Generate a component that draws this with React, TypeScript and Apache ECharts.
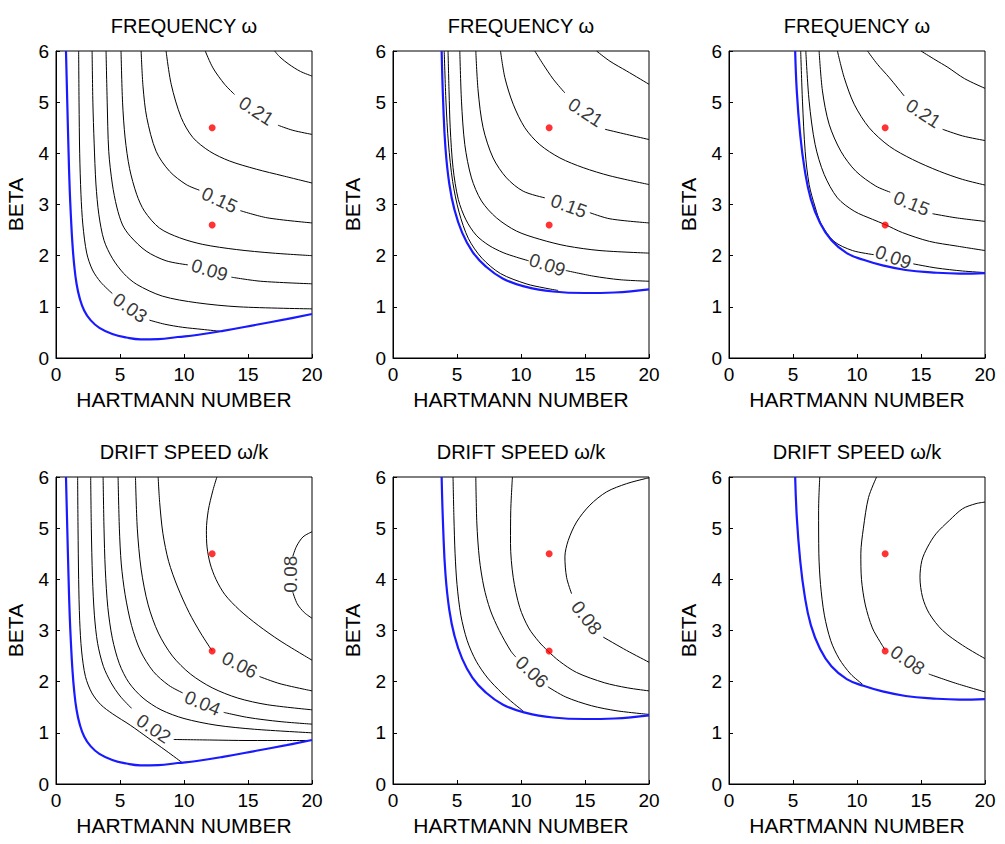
import React, { useEffect, useRef } from "react";
import * as echarts from "echarts";

type Pt = [number, number];
interface Contour {
  level: string;
  segs: Pt[][];
  label?: [number, number, number]; // x, y, rotation (deg)
}

const TITLES = [
  "FREQUENCY ω",
  "FREQUENCY ω",
  "FREQUENCY ω",
  "DRIFT SPEED ω/k",
  "DRIFT SPEED ω/k",
  "DRIFT SPEED ω/k",
];
const X_NAME = "HARTMANN NUMBER";
const Y_NAME = "BETA";
const X_RANGE = [0, 20, 5];
const Y_RANGE = [0, 6, 1];
const OPERATING_POINTS: Pt[] = [
  [12.2, 4.5],
  [12.2, 2.6],
];

// marginal stability curves (blue)
const MARGINAL_A: Pt[] = [
  [0.78, 6], [0.88, 5], [0.98, 4.04], [1.07, 3.3], [1.17, 2.74], [1.28, 2.25], [1.42, 1.82], [1.6, 1.46],
  [1.85, 1.17], [2.2, 0.93], [2.7, 0.74], [3.39, 0.59], [4.4, 0.47], [5.5, 0.4], [6.6, 0.365], [8.0, 0.37],
  [9.5, 0.41], [11.0, 0.45], [13.04, 0.53], [15.65, 0.65], [18, 0.76], [20, 0.86],
];
const MARGINAL_B: Pt[] = [
  [3.8, 6], [3.92, 5.0], [4.1, 4.1], [4.4, 3.4], [4.8, 2.9], [5.4, 2.45], [6.2, 2.08], [7.2, 1.8],
  [8.6, 1.55], [10.4, 1.39], [12.5, 1.3], [15, 1.27], [17.3, 1.28], [20, 1.34],
];
const MARGINAL_C: Pt[] = [
  [5.17, 6], [5.3, 5.2], [5.55, 4.4], [5.9, 3.7], [6.4, 3.1], [7.1, 2.65], [8.0, 2.3], [9.2, 2.05],
  [10.5, 1.92], [12.0, 1.81], [13.8, 1.72], [16.0, 1.67], [18, 1.65], [20, 1.66],
];

// FREQUENCY contours
const FREQ_A: Contour[] = [
  { level: "0.03", segs: [
    [[1.77, 6], [1.8, 5], [1.85, 4.0], [1.95, 3.2], [2.1, 2.6], [2.4, 2.05], [2.85, 1.72], [3.5, 1.48], [4.4, 1.26]],
    [[7.3, 0.74], [8.5, 0.66], [9.9, 0.6], [11.4, 0.56], [12.9, 0.52]],
  ], label: [5.79, 0.98, -35] },
  { level: "0.06", segs: [[[2.82, 6], [2.88, 5.0], [2.98, 4.2], [3.12, 3.4], [3.35, 2.8], [3.75, 2.3], [4.4, 1.95], [5.3, 1.65], [6.3, 1.44], [8.3, 1.21], [11, 1.08], [14.3, 1.0], [20, 0.96]]] },
  { level: "0.09", segs: [
    [[3.91, 6], [4.0, 5.0], [4.12, 4.04], [4.4, 3.4], [4.75, 2.95], [5.2, 2.6], [5.8, 2.38], [7.04, 2.09], [8.6, 1.9], [10.3, 1.82]],
    [[13.7, 1.58], [16, 1.5], [20, 1.45]],
  ], label: [12.0, 1.72, -17] },
  { level: "0.12", segs: [[[5.08, 6], [5.2, 5.0], [5.4, 4.3], [5.75, 3.7], [6.3, 3.2], [6.91, 2.87], [8.08, 2.54], [9.65, 2.35], [11.47, 2.22], [14.08, 2.12], [16.95, 2.05], [20, 2.0]]] },
  { level: "0.15", segs: [
    [[6.65, 6], [6.8, 5.3], [7.09, 4.7], [7.82, 4.04], [8.87, 3.65], [10.17, 3.39], [11.2, 3.28]],
    [[14.4, 2.88], [16.5, 2.74], [20, 2.64]],
  ], label: [12.78, 3.09, -25] },
  { level: "0.18", segs: [[[8.6, 6], [9.0, 5.35], [9.78, 4.7], [10.69, 4.31], [12.0, 4.04], [13.56, 3.85], [15.65, 3.69], [17.73, 3.56], [20, 3.42]]] },
  { level: "0.21", segs: [
    [[11.66, 6], [12.26, 5.67], [13.17, 5.35], [13.95, 5.15]],
    [[17.34, 4.55], [18.5, 4.45], [20, 4.37]],
  ], label: [15.65, 4.83, -33] },
  { level: "0.24", segs: [[[17.08, 6], [17.5, 5.88], [18.2, 5.74], [19.1, 5.6], [20, 5.51]]] },
];

const FREQ_B: Contour[] = [
  { level: "0.06", segs: [[[4.0, 6], [4.14, 5.0], [4.33, 4.2], [4.66, 3.45], [5.16, 2.85], [5.9, 2.33], [6.95, 1.95], [8.4, 1.65], [10.4, 1.45], [11.8, 1.37], [12.9, 1.32]]] },
  { level: "0.09", segs: [
    [[4.3, 6], [4.38, 5.2], [4.47, 4.5], [4.69, 3.72], [5.1, 3.1], [5.7, 2.7], [6.5, 2.4], [7.5, 2.2], [8.6, 2.06], [9.65, 1.97], [10.6, 1.9]],
    [[13.5, 1.71], [15.65, 1.6], [17.73, 1.53], [20, 1.5]],
  ], label: [12.05, 1.82, -18] },
  { level: "0.12", segs: [[[5.22, 6], [5.35, 5.02], [5.61, 4.17], [6.13, 3.52], [6.91, 3.07], [8.08, 2.74], [9.65, 2.48], [11.47, 2.32], [13.56, 2.19], [16.17, 2.1], [20, 2.05]]] },
  { level: "0.15", segs: [
    [[6.47, 6], [6.65, 5.22], [7.04, 4.5], [7.82, 3.91], [8.87, 3.52], [10.17, 3.26], [11.86, 3.13]],
    [[15.38, 2.84], [16.95, 2.72], [20, 2.64]],
  ], label: [13.74, 2.97, -20] },
  { level: "0.18", segs: [[[8.4, 6], [8.74, 5.48], [9.39, 4.96], [10.3, 4.5], [11.47, 4.17], [13.04, 3.91], [14.86, 3.72], [16.95, 3.56], [20, 3.39]]] },
  { level: "0.21", segs: [
    [[11.08, 6], [11.73, 5.74], [12.52, 5.45], [13.43, 5.18]],
    [[16.56, 4.47], [18.25, 4.37], [20, 4.27]],
  ], label: [15.05, 4.8, -33] },
  { level: "0.24", segs: [[[15.9, 6], [16.95, 5.8], [18.25, 5.61], [20, 5.35]]] },
];

const FREQ_C: Contour[] = [
  { level: "0.09", segs: [
    [[5.6, 6], [5.74, 5.02], [5.95, 4.04], [6.26, 3.39], [6.73, 2.95], [7.2, 2.62], [8.2, 2.28], [9.65, 2.1], [11.3, 2.02]],
    [[14.4, 1.84], [16.17, 1.76], [18.25, 1.7], [20, 1.67]],
  ], label: [12.83, 1.97, -20] },
  { level: "0.12", segs: [[[6.0, 6], [6.26, 5.02], [6.73, 4.17], [7.43, 3.59], [8.47, 3.13], [9.78, 2.87], [11.21, 2.71], [12.18, 2.61], [13.56, 2.45], [15.65, 2.28], [17.73, 2.19], [20, 2.1]]] },
  { level: "0.15", segs: [
    [[7.04, 6], [7.3, 5.22], [7.82, 4.57], [8.74, 4.04], [9.91, 3.65], [11.47, 3.36], [12.6, 3.24]],
    [[15.9, 2.82], [17.73, 2.74], [20, 2.67]],
  ], label: [14.26, 3.02, -22] },
  { level: "0.18", segs: [[[8.47, 6], [9.0, 5.48], [9.78, 4.96], [10.95, 4.5], [12.52, 4.14], [14.34, 3.88], [16.43, 3.65], [18.25, 3.49], [20, 3.38]]] },
  { level: "0.21", segs: [
    [[10.82, 6], [11.6, 5.74], [12.52, 5.48], [13.69, 5.12]],
    [[16.69, 4.47], [18.25, 4.34], [20, 4.25]],
  ], label: [15.18, 4.78, -33] },
  { level: "0.24", segs: [[[15.0, 6], [16.1, 5.83], [17.1, 5.68], [18.4, 5.46], [20, 5.27]]] },
];

// DRIFT SPEED contours
const DRIFT_A: Contour[] = [
  { level: "0.01", segs: [[[1.69, 6], [1.72, 5], [1.77, 4], [1.85, 3.2], [2.0, 2.6], [2.3, 2.1], [2.8, 1.78], [3.5, 1.55], [4.43, 1.37], [5.8, 1.15], [7.2, 0.9], [8.6, 0.65], [9.9, 0.41]]] },
  { level: "0.02", segs: [
    [[2.71, 6], [2.76, 5], [2.85, 4.04], [3.0, 3.3], [3.25, 2.75], [3.7, 2.3], [4.3, 1.98], [5.0, 1.72], [5.9, 1.48]],
    [[9.2, 0.87], [12, 0.86], [15, 0.85], [18, 0.85], [19.7, 0.85]],
  ], label: [7.63, 1.08, -34] },
  { level: "0.03", segs: [[[3.68, 6], [3.75, 5], [3.85, 4.2], [4.05, 3.45], [4.4, 2.85], [4.95, 2.35], [5.7, 1.98], [6.8, 1.68], [8.2, 1.45], [10, 1.28], [12.5, 1.15], [15.5, 1.07], [20, 1.0]]] },
  { level: "0.04", segs: [
    [[4.85, 6], [4.95, 5.0], [5.1, 4.3], [5.4, 3.7], [5.9, 3.1], [6.6, 2.6], [7.6, 2.2], [8.8, 1.93], [9.9, 1.78]],
    [[13.1, 1.4], [15, 1.3], [17.5, 1.22], [20, 1.17]],
  ], label: [11.45, 1.58, -23] },
  { level: "0.05", segs: [[[6.21, 6], [6.35, 5.0], [6.65, 4.2], [7.2, 3.5], [8.0, 2.95], [9.1, 2.5], [10.5, 2.15], [12.2, 1.88], [14.2, 1.68], [16.5, 1.55], [20, 1.45]]] },
  { level: "0.06", segs: [
    [[7.98, 6], [8.1, 5.5], [8.35, 4.9], [8.8, 4.35], [9.5, 3.85], [10.4, 3.35], [11.3, 2.95], [12.2, 2.6]],
    [[15.9, 2.1], [17.5, 1.96], [20, 1.82]],
  ], label: [14.35, 2.33, -27] },
  { level: "0.07", segs: [[[12.57, 6], [12.26, 5.74], [11.9, 5.35], [11.75, 4.96], [11.8, 4.63], [12.05, 4.3], [12.5, 4.0], [13.2, 3.7], [14.34, 3.4], [15.8, 3.1], [17.5, 2.8], [20, 2.42]]] },
  { level: "0.08", segs: [
    [[20, 4.93], [19.3, 4.83], [18.8, 4.65], [18.5, 4.45]],
    [[18.5, 3.75], [18.85, 3.52], [19.4, 3.35], [20, 3.24]],
  ], label: [18.3, 4.1, 90] },
];

const DRIFT_B: Contour[] = [
  { level: "0.05", segs: [[[4.69, 6], [4.76, 5.2], [4.85, 4.5], [5.0, 3.9], [5.3, 3.3], [5.8, 2.8], [6.5, 2.4], [7.4, 2.07], [8.5, 1.78], [9.4, 1.58], [10.2, 1.42]]] },
  { level: "0.06", segs: [
    [[6.47, 6], [6.55, 5.1], [6.75, 4.4], [7.1, 3.85], [7.6, 3.4], [8.3, 3.0], [9.2, 2.6], [9.6, 2.48]],
    [[12.1, 1.9], [13.5, 1.7], [15.5, 1.53], [17.5, 1.43], [20, 1.36]],
  ], label: [10.85, 2.19, -43] },
  { level: "0.07", segs: [[[9.33, 6], [9.2, 5.35], [9.18, 4.7], [9.39, 4.04], [9.9, 3.45], [10.6, 3.05], [11.4, 2.78], [12.1, 2.6], [13, 2.4], [14.34, 2.18], [16.5, 1.98], [18.3, 1.88], [20, 1.82]]] },
  { level: "0.08", segs: [
    [[20, 5.98], [19.74, 5.97], [18.25, 5.87], [16.69, 5.71], [15.38, 5.45], [14.34, 5.12], [13.69, 4.76], [13.43, 4.44], [13.56, 4.04], [13.95, 3.72]],
    [[16.43, 2.87], [18.25, 2.61], [20, 2.38]],
  ], label: [15.12, 3.25, -52] },
];

const DRIFT_C: Contour[] = [
  { level: "0.07", segs: [[[7.09, 6], [7.0, 5.35], [7.02, 4.5], [7.15, 3.9], [7.45, 3.3], [7.95, 2.8], [8.6, 2.45], [9.5, 2.15], [10.43, 1.95]]] },
  { level: "0.08", segs: [
    [[11.53, 6], [10.9, 5.6], [10.5, 5.0], [10.3, 4.5], [10.35, 4.0], [10.65, 3.5], [11.2, 3.05], [11.8, 2.78], [12.2, 2.62]],
    [[15.6, 2.15], [17.7, 1.97], [20, 1.8]],
  ], label: [13.95, 2.42, -35] },
  { level: "0.09", segs: [[[20, 5.51], [19.3, 5.48], [18.25, 5.38], [17.21, 5.15], [16.17, 4.89], [15.51, 4.63], [15.07, 4.37], [14.92, 4.04], [15.12, 3.65], [15.65, 3.33], [16.69, 3.0], [18.25, 2.71], [20, 2.45]]] },
];

const PANEL_CONTOURS = [FREQ_A, FREQ_B, FREQ_C, DRIFT_A, DRIFT_B, DRIFT_C];
const PANEL_MARGINAL = [MARGINAL_A, MARGINAL_B, MARGINAL_C, MARGINAL_A, MARGINAL_B, MARGINAL_C];

const FONT = "'Liberation Sans', Arial, Helvetica, sans-serif";
const GRID_LEFTS = [56, 393, 729];
const GRID_TOPS = [51, 477];
const GRID_W = 256;
const GRID_H = 307;

function buildOption(): any {
  const grids: any[] = [];
  const xAxes: any[] = [];
  const yAxes: any[] = [];
  const titles: any[] = [];
  const series: any[] = [];

  for (let i = 0; i < 6; i++) {
    const col = i % 3;
    const row = Math.floor(i / 3);
    const left = GRID_LEFTS[col];
    const top = GRID_TOPS[row];
    grids.push({
      left,
      top,
      width: GRID_W,
      height: GRID_H,
      show: true,
      borderColor: "#000",
      borderWidth: 1,
      backgroundColor: "#fff",
      containLabel: false,
    });
    const axisCommon = {
      gridIndex: i,
      type: "value",
      nameLocation: "middle",
      nameTextStyle: { fontSize: 21, color: "#000", fontFamily: FONT },
      axisLine: { show: true, onZero: false, lineStyle: { color: "#000", width: 1 } },
      axisTick: { show: true, inside: true, length: 4, lineStyle: { color: "#000", width: 1 } },
      splitLine: { show: false },
    };
    xAxes.push({
      ...axisCommon,
      min: X_RANGE[0],
      max: X_RANGE[1],
      interval: X_RANGE[2],
      name: X_NAME,
      nameGap: 31,
      axisLabel: { fontSize: 19, color: "#000", fontFamily: FONT, margin: 7 },
    });
    yAxes.push({
      ...axisCommon,
      min: Y_RANGE[0],
      max: Y_RANGE[1],
      interval: Y_RANGE[2],
      name: Y_NAME,
      nameGap: 30,
      axisLabel: { fontSize: 19, color: "#000", fontFamily: FONT, margin: 7 },
    });
    titles.push({
      text: TITLES[i],
      left: left + GRID_W / 2,
      top: top - 35,
      textAlign: "center",
      padding: 0,
      textStyle: { fontSize: 20, fontWeight: "normal", color: "#000", fontFamily: FONT },
    });

    // contour lines
    const labels: any[] = [];
    PANEL_CONTOURS[i].forEach((c) => {
      c.segs.forEach((seg) => {
        series.push({
          type: "line",
          xAxisIndex: i,
          yAxisIndex: i,
          data: seg,
          symbol: "none",
          showSymbol: false,
          smooth: 0.3,
          clip: true,
          silent: true,
          lineStyle: { color: "#000", width: 1 },
          z: 2,
        });
      });
      if (c.label) {
        labels.push({
          value: [c.label[0], c.label[1]],
          label: { show: true, formatter: c.level, rotate: c.label[2] },
        });
      }
    });

    // marginal curve
    series.push({
      type: "line",
      xAxisIndex: i,
      yAxisIndex: i,
      data: PANEL_MARGINAL[i],
      symbol: "none",
      showSymbol: false,
      smooth: 0.45,
      clip: true,
      silent: true,
      lineStyle: { color: "#1a1aff", width: 2.2 },
      z: 3,
    });

    // operating points
    series.push({
      type: "scatter",
      xAxisIndex: i,
      yAxisIndex: i,
      data: OPERATING_POINTS,
      symbol: "circle",
      symbolSize: 7,
      silent: true,
      itemStyle: { color: "#ff0000" },
      z: 4,
    });

    // contour labels
    series.push({
      type: "scatter",
      xAxisIndex: i,
      yAxisIndex: i,
      data: labels,
      symbolSize: 1,
      silent: true,
      itemStyle: { color: "rgba(0,0,0,0)" },
      label: {
        show: true,
        position: "inside",
        fontSize: 19,
        color: "#000",
        fontFamily: FONT,
        align: "center",
        verticalAlign: "middle",
      },
      z: 5,
    });
  }

  return {
    animation: false,
    backgroundColor: "#fff",
    title: titles,
    grid: grids,
    xAxis: xAxes,
    yAxis: yAxes,
    series,
  };
}

export default function App() {
  const ref = useRef<HTMLDivElement>(null);
  useEffect(() => {
    if (!ref.current) return;
    const chart = echarts.init(ref.current, undefined, { renderer: "svg" });
    chart.setOption(buildOption());
    return () => chart.dispose();
  }, []);
  return (
    <div
      ref={ref}
      style={{ position: "fixed", left: 0, top: 0, width: 1005, height: 844, background: "#fff" }}
    />
  );
}
